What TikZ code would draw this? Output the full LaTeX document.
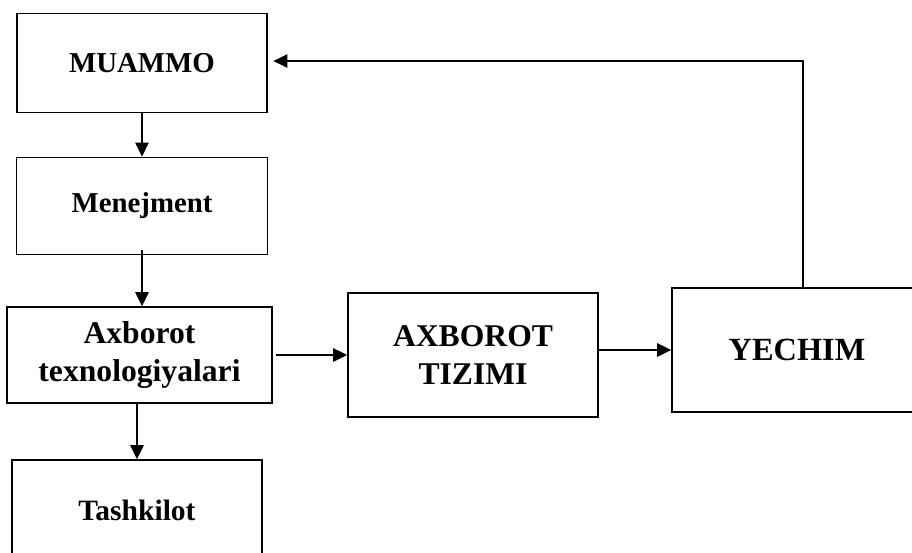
\documentclass[tikz,border=0pt]{standalone}
\usepackage{fontspec}
\setmainfont{Liberation Serif}
\usetikzlibrary{arrows.meta}
\tikzset{
  blok/.style={draw, line width=1pt, inner sep=0pt, align=center, font=\bfseries},
  strelka/.style={line width=1pt, -{Triangle[length=10pt,width=9.5pt]}}
}
\begin{document}
\begin{tikzpicture}[x=0.025cm, y=-0.025cm]
            \useasboundingbox (0,0) rectangle (912,552);
            % left column
            \node[blok, minimum width=6.25cm, minimum height=2.48cm, font=\bfseries\fontsize{20.5}{24}\selectfont] (muammo) at (142,63) {MUAMMO};
            \node[blok, minimum width=6.28cm, minimum height=2.43cm, font=\bfseries\fontsize{20.5}{24}\selectfont] (menejment) at (142,206) {Menejment};
            \node[blok, minimum width=6.63cm, minimum height=2.4cm, font=\bfseries\fontsize{22.5}{27.5}\selectfont] (axborot) at (139.5,355) {Axborot\\texnologiyalari};
            \node[blok, minimum width=6.25cm, minimum height=2.5cm, font=\bfseries\fontsize{21}{25}\selectfont] (tashkilot) at (137,510) {Tashkilot};
            % right row
            \node[blok, minimum width=6.25cm, minimum height=3.1cm, font=\bfseries\fontsize{22.5}{27.5}\selectfont] (tizimi) at (473,355) {AXBOROT\\TIZIMI};
            \node[blok, minimum width=6.25cm, minimum height=3.1cm, font=\bfseries\fontsize{23}{27}\selectfont] (yechim) at (797,350) {YECHIM};
            \coordinate (qaytish) at (803,61);
            % arrows
            \draw[strelka] (muammo.south) -- (menejment.north);
            \draw[strelka] ([yshift=4pt]menejment.south) -- (menejment.south |- axborot.north);
            \draw[strelka] (axborot.south -| tashkilot) -- (tashkilot.north);
            \draw[strelka] ([xshift=2pt]axborot.east) -- (tizimi.west);
            \draw[strelka] (tizimi.east |- yechim.west) -- (yechim.west);
            \draw[strelka] (yechim.north -| qaytish) -- (qaytish) -- ([xshift=4pt]qaytish -| muammo.east);
          \end{tikzpicture}
\end{document}
